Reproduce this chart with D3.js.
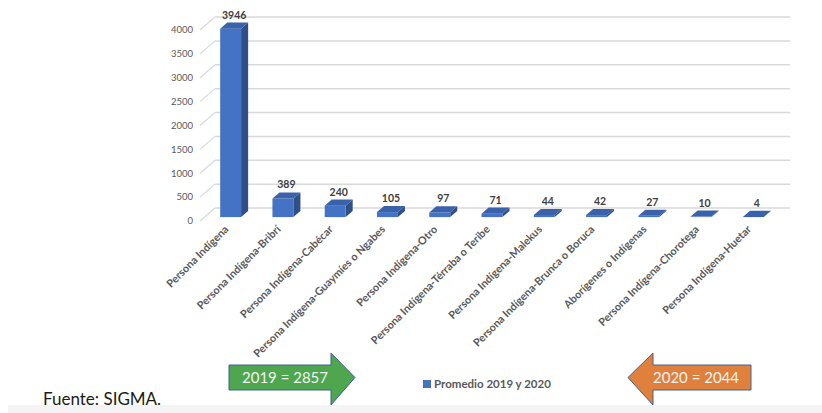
<!DOCTYPE html>
<html>
<head>
<meta charset="utf-8">
<script src="https://cdn.jsdelivr.net/npm/d3@7"></script>
<style>
  html, body { margin: 0; padding: 0; background: #fff; }
  svg { display: block; }
</style>
</head>
<body>
<div id="chart"></div>
<script>
// categories and values
const categories = [
  'Persona Indígena',
  'Persona Indígena-Bribrí',
  'Persona Indígena-Cabécar',
  'Persona Indígena-Guaymíes o Ngabes',
  'Persona Indígena-Otro',
  'Persona Indígena-Térraba o Teribe',
  'Persona Indígena-Malekus',
  'Persona Indígena-Brunca o Boruca',
  'Aborígenes o Indígenas',
  'Persona Indígena-Chorotega',
  'Persona Indígena-Huetar'
];
const values = [3946, 389, 240, 105, 97, 71, 44, 42, 27, 10, 4];
const yTicks = [0, 500, 1000, 1500, 2000, 2500, 3000, 3500, 4000];
const seriesName = 'Promedio 2019 y 2020';
const yearTotals = ['2019 = 2857', '2020 = 2044'];
const source = 'Fuente: SIGMA.';

const W = 822, H = 413;
const FONT = 'Lato, "Open Sans", sans-serif';

const svg = d3.select('#chart').append('svg')
  .attr('width', W).attr('height', H)
  .attr('viewBox', `0 0 ${W} ${H}`);

// 3d floor: front edge + depth vector
const floorY = 221, depth = [15, -13];
const x = d3.scaleBand().domain(categories).range([200, 775]).paddingInner(0.6).paddingOuter(0.3);
const h = d3.scaleLinear().domain([0, 4000]).range([0, 191]);

const gridG = svg.append('g');
yTicks.forEach(t => {
  const yf = floorY - h(t);
  // side wall diagonal
  gridG.append('line')
    .attr('x1', 200).attr('y1', yf).attr('x2', 200 + depth[0]).attr('y2', yf + depth[1])
    .attr('stroke', '#d9d9d9').attr('stroke-width', 1.2);
  // back wall line
  gridG.append('line')
    .attr('x1', 200 + depth[0]).attr('y1', yf + depth[1]).attr('x2', 790).attr('y2', yf + depth[1])
    .attr('stroke', '#d9d9d9').attr('stroke-width', 1.5);
  gridG.append('text').text(t)
    .attr('x', 193).attr('y', yf).attr('dy', '0.35em').attr('text-anchor', 'end')
    .attr('fill', '#595959').attr('font-size', 9.5).attr('font-family', FONT);
});

// bars sit between depth fractions t1..t2
const t1 = 0.3, t2 = 0.77;
const bdx = (t2 - t1) * depth[0], bdy = (t2 - t1) * depth[1];
const barG = svg.append('g');
categories.forEach((c, i) => {
  const x0 = x(c) + t1 * depth[0];
  const bw = x.bandwidth();
  const yb = floorY + t1 * depth[1];
  const yt = yb - h(values[i]);
  // side face
  barG.append('path')
    .attr('d', `M${x0 + bw},${yb}L${x0 + bw + bdx},${yb + bdy}L${x0 + bw + bdx},${yt + bdy}L${x0 + bw},${yt}Z`)
    .attr('fill', '#2f4f86');
  // front face
  barG.append('rect')
    .attr('x', x0).attr('y', yt).attr('width', bw).attr('height', yb - yt)
    .attr('fill', '#4472c4');
  // top face
  barG.append('path')
    .attr('d', `M${x0},${yt}L${x0 + bw},${yt}L${x0 + bw + bdx},${yt + bdy}L${x0 + bdx},${yt + bdy}Z`)
    .attr('fill', '#3a62ab');
  // value label
  barG.append('text').text(values[i])
    .attr('x', x0 + bw / 2 + bdx / 2).attr('y', yt + bdy - 4)
    .attr('text-anchor', 'middle')
    .attr('fill', '#404040').attr('font-size', 10.5).attr('font-weight', 'bold').attr('font-family', FONT);
  // category label
  const lx = x(c) + bw / 2 + 3, ly = 230;
  barG.append('text').text(c)
    .attr('transform', `translate(${lx},${ly}) rotate(-45)`)
    .attr('text-anchor', 'end')
    .attr('fill', '#595959').attr('font-size', 10.8).attr('font-weight', 'bold').attr('font-family', FONT);
});

// legend
const lg = svg.append('g').attr('transform', 'translate(423,384)');
lg.append('rect').attr('x', 0).attr('y', -4).attr('width', 8).attr('height', 8).attr('fill', '#4472c4');
lg.append('text').text(seriesName)
  .attr('x', 11).attr('y', 0).attr('dy', '0.36em')
  .attr('fill', '#595959').attr('font-size', 11.5).attr('font-weight', 'bold').attr('font-family', FONT);

// year total arrows
function arrow(bodyX0, bodyX1, tipX, fill, label, textX) {
  const yT = 365, yB = 390, hT = 353, hB = 405, mid = (yT + yB) / 2;
  const d = `M${bodyX0},${yT}L${bodyX1},${yT}L${bodyX1},${hT}L${tipX},${mid}L${bodyX1},${hB}L${bodyX1},${yB}L${bodyX0},${yB}Z`;
  svg.append('path').attr('d', d).attr('fill', fill).attr('stroke', '#41628f').attr('stroke-width', 1);
  svg.append('text').text(label)
    .attr('x', textX).attr('y', mid).attr('dy', '0.36em').attr('text-anchor', 'middle')
    .attr('fill', '#f4f4f4').attr('font-size', 15).attr('font-family', FONT);
}
arrow(229, 331, 355, '#4ea64f', yearTotals[0], 285);
arrow(751, 653, 628, '#e0803d', yearTotals[1], 696);

// bottom band and source
svg.append('rect').attr('x', 8).attr('y', 405).attr('width', W - 8).attr('height', H - 405).attr('fill', '#f4f4f4');
svg.append('text').text(source)
  .attr('x', 43).attr('y', 405)
  .attr('fill', '#1a1a1a').attr('font-size', 17).attr('font-family', FONT);
</script>
</body>
</html>
